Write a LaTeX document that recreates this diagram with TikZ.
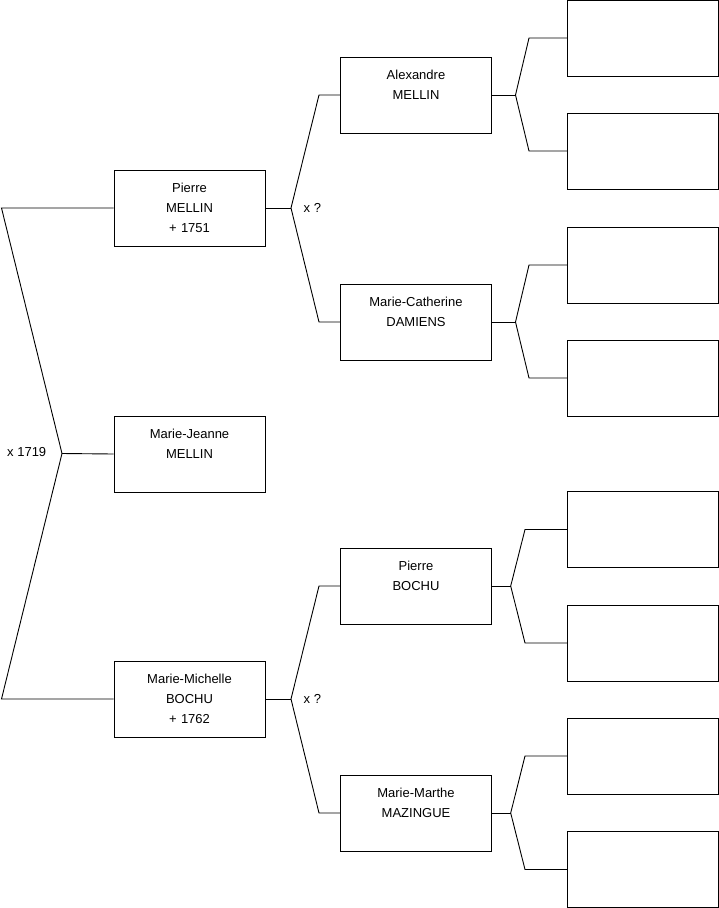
\documentclass[tikz,border=0pt]{standalone}
\usepackage{fontspec}
\setmainfont{Liberation Sans}
\begin{document}
\begin{tikzpicture}[x=1pt,y=-1pt,
  box/.style={draw=black, line width=0.9pt, fill=white, minimum width=151pt, minimum height=76pt,
    inner sep=0pt, align=center, text width=151pt, font=\fontsize{13}{20}\selectfont},
  lbl/.style={inner sep=0pt, anchor=west, font=\fontsize{13}{16}\selectfont},
  conn/.style={draw=black, line width=0.9pt, line join=miter}]
\useasboundingbox (0,0) rectangle (719,908);
% generation 1
\node[box] (pm) at (189.5,208) {Pierre\\MELLIN\\+ 1751};
\node[box] (mj) at (189.5,454) {Marie-Jeanne\\MELLIN\\\mbox{}};
\node[box] (mb) at (189.5,699) {Marie-Michelle\\BOCHU\\+ 1762};
% generation 2
\node[box] (am) at (416,95) {Alexandre\\MELLIN\\\mbox{}};
\node[box] (mc) at (416,322) {Marie-Catherine\\DAMIENS\\\mbox{}};
\node[box] (pb) at (416,586) {Pierre\\BOCHU\\\mbox{}};
\node[box] (mm) at (416,813) {Marie-Marthe\\MAZINGUE\\\mbox{}};
% generation 3 (empty)
\node[box] (e1) at (643,38) {};
\node[box] (e2) at (643,151) {};
\node[box] (e3) at (643,265) {};
\node[box] (e4) at (643,378) {};
\node[box] (e5) at (643,529.5) {};
\node[box] (e6) at (643,643) {};
\node[box] (e7) at (643,756) {};
\node[box] (e8) at (643,869.5) {};
% fork coordinates
\coordinate (f0) at (62,453.5);
\coordinate (f0a) at (1.5,208);
\coordinate (f0b) at (1.5,699);
\coordinate (f1) at (291,208);
\coordinate (f1a) at (319,95);
\coordinate (f1b) at (319,322);
\coordinate (f2) at (291,699);
\coordinate (f2a) at (319,586);
\coordinate (f2b) at (319,813);
\coordinate (fa) at (515.5,95);
\coordinate (faa) at (529,38);
\coordinate (fab) at (529,151);
\coordinate (fc) at (515.5,322);
\coordinate (fca) at (529,265);
\coordinate (fcb) at (529,378);
\coordinate (fp) at (510.7,586);
\coordinate (fpa) at (525,529.5);
\coordinate (fpb) at (525,643);
\coordinate (fm) at (510.7,813);
\coordinate (fma) at (525,756);
\coordinate (fmb) at (525,869.5);
% connectors
\draw[conn] (pm.west) -- (f0a) -- (f0) -- (f0b) -- (mb.west);
\draw[conn] (f0) -- (mj.west);
\draw[conn] (pm.east) -- (f1);
\draw[conn] (am.west) -- (f1a) -- (f1) -- (f1b) -- (mc.west);
\draw[conn] (mb.east) -- (f2);
\draw[conn] (pb.west) -- (f2a) -- (f2) -- (f2b) -- (mm.west);
\draw[conn] (am.east) -- (fa);
\draw[conn] (e1.west) -- (faa) -- (fa) -- (fab) -- (e2.west);
\draw[conn] (mc.east) -- (fc);
\draw[conn] (e3.west) -- (fca) -- (fc) -- (fcb) -- (e4.west);
\draw[conn] (pb.east) -- (fp);
\draw[conn] (e5.west) -- (fpa) -- (fp) -- (fpb) -- (e6.west);
\draw[conn] (mm.east) -- (fm);
\draw[conn] (e7.west) -- (fma) -- (fm) -- (fmb) -- (e8.west);
% labels
\node[lbl] (m0) at (7,452) {x 1719};
\node[lbl] (m1) at (303.5,207.5) {x ?};
\node[lbl] (m2) at (303.5,698.5) {x ?};
\end{tikzpicture}
\end{document}
